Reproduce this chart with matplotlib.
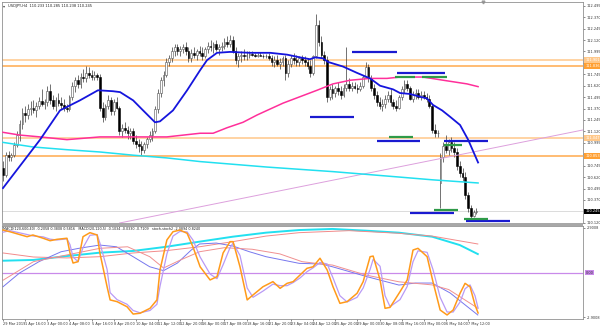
import matplotlib
matplotlib.use('Agg')
import matplotlib.pyplot as plt
import matplotlib.transforms as mtransforms
from matplotlib.patches import Rectangle
import numpy as np

# ---------------- data (USDJPY H4) ----------------
opens = [110.72,110.64,110.86,110.84,110.86,110.97,111.08,111.20,111.32,111.30,
         111.36,111.38,111.35,111.40,111.45,111.42,111.44,111.56,111.46,111.40,
         111.46,111.43,111.41,111.38,111.36,111.50,111.62,111.68,111.64,111.72,
         111.70,111.76,111.74,111.72,111.74,111.72,111.38,111.28,111.40,111.46,
         111.34,111.44,111.38,111.12,111.16,111.14,111.10,111.12,111.02,110.98,
         110.96,110.92,110.98,111.04,111.08,111.12,111.36,111.54,111.68,111.74,
         111.88,111.92,112.00,112.04,112.00,112.02,112.04,112.00,111.92,111.98,
         111.96,112.00,111.98,111.94,112.02,112.06,112.04,112.08,112.02,112.04,
         112.06,112.10,112.08,112.12,112.00,111.90,111.94,111.96,111.94,111.96,
         111.97,111.96,111.95,111.96,111.95,111.94,111.95,111.92,111.88,111.90,
         111.86,111.88,111.92,111.76,111.86,111.92,111.90,111.88,111.92,111.90,
         111.88,111.84,111.76,111.94,112.28,112.10,111.96,111.90,111.50,111.58,
         111.54,111.60,111.56,111.52,111.60,111.64,111.60,111.62,111.60,111.58,
         111.62,111.72,111.82,111.70,111.60,111.52,111.44,111.40,111.42,111.48,
         111.52,111.44,111.40,111.38,111.50,111.58,111.64,111.60,111.48,111.52,
         111.54,111.50,111.52,111.50,111.48,111.40,111.14,111.10,110.56,110.84,
         110.96,110.92,111.00,110.94,110.90,110.74,110.66,110.62,110.42,110.28,
         110.20,110.24]
highs = [110.80,110.90,110.91,110.88,111.00,111.12,111.25,111.38,111.40,111.42,
         111.45,111.46,111.44,111.50,111.58,111.48,111.62,111.64,111.52,111.50,
         111.54,111.50,111.48,111.42,111.52,111.66,111.72,111.74,111.76,111.80,
         111.84,111.82,111.79,111.78,111.76,111.75,111.44,111.42,111.52,111.50,
         111.48,111.50,111.40,111.20,111.22,111.18,111.16,111.16,111.08,111.04,
         111.02,111.00,111.06,111.12,111.16,111.40,111.58,111.72,111.78,111.92,
         111.96,112.04,112.08,112.08,112.06,112.08,112.10,112.04,112.02,112.04,
         112.02,112.06,112.04,112.04,112.10,112.12,112.10,112.12,112.08,112.10,
         112.14,112.16,112.18,112.16,112.04,111.98,112.00,112.02,112.00,112.00,
         112.00,111.98,111.98,111.99,111.97,111.97,111.98,111.96,111.94,111.96,
         111.92,111.94,111.96,111.90,111.96,111.98,111.96,111.94,111.96,111.94,
         111.92,111.90,111.96,112.40,112.34,112.16,112.00,111.94,111.62,111.64,
         111.62,111.66,111.62,111.64,112.04,111.70,111.66,111.66,111.64,111.66,
         111.74,111.88,111.86,111.74,111.64,111.56,111.50,111.48,111.52,111.56,
         111.58,111.48,111.46,111.52,111.62,111.68,111.68,111.62,111.56,111.58,
         111.58,111.56,111.56,111.54,111.52,111.42,111.20,111.14,110.88,111.00,
         111.08,111.04,111.06,111.00,110.94,110.80,110.72,110.68,110.46,110.32,
         110.26,110.28]
lows = [110.58,110.62,110.80,110.80,110.84,110.95,111.02,111.15,111.22,111.26,
        111.30,111.32,111.28,111.36,111.40,111.36,111.40,111.42,111.36,111.34,
        111.40,111.37,111.34,111.33,111.34,111.46,111.55,111.60,111.60,111.66,
        111.66,111.70,111.68,111.68,111.68,111.34,111.22,111.24,111.36,111.30,
        111.30,111.36,111.08,111.06,111.10,111.04,111.04,110.98,110.94,110.90,
        110.86,110.88,110.94,111.00,111.02,111.10,111.32,111.50,111.62,111.72,
        111.84,111.88,111.94,111.96,111.94,111.98,111.96,111.88,111.88,111.92,
        111.90,111.94,111.90,111.92,111.98,112.00,111.98,112.00,111.96,112.00,
        112.02,112.04,112.04,111.98,111.86,111.82,111.88,111.90,111.90,111.92,
        111.94,111.93,111.93,111.94,111.92,111.92,111.90,111.84,111.82,111.84,
        111.80,111.84,111.68,111.72,111.82,111.86,111.84,111.84,111.86,111.84,
        111.80,111.72,111.74,111.92,112.06,111.92,111.86,111.44,111.46,111.48,
        111.50,111.52,111.48,111.50,111.56,111.56,111.56,111.58,111.54,111.56,
        111.60,111.70,111.66,111.56,111.48,111.40,111.36,111.34,111.38,111.44,
        111.40,111.36,111.34,111.36,111.46,111.54,111.56,111.46,111.44,111.48,
        111.48,111.46,111.48,111.44,111.38,111.10,111.06,111.06,110.28,110.78,
        110.88,110.86,110.90,110.84,110.70,110.62,110.58,110.38,110.24,110.14,
        110.18,110.22]
closes = [110.64,110.86,110.84,110.86,110.97,111.08,111.20,111.32,111.30,111.36,
          111.38,111.35,111.40,111.45,111.42,111.44,111.56,111.46,111.40,111.46,
          111.43,111.41,111.38,111.36,111.50,111.62,111.68,111.64,111.72,111.70,
          111.76,111.74,111.72,111.74,111.72,111.38,111.28,111.40,111.46,111.34,
          111.44,111.38,111.12,111.16,111.14,111.10,111.12,111.02,110.98,110.96,
          110.92,110.98,111.04,111.08,111.12,111.36,111.54,111.68,111.74,111.88,
          111.92,112.00,112.04,112.00,112.02,112.04,112.00,111.92,111.98,111.96,
          112.00,111.98,111.94,112.02,112.06,112.04,112.08,112.02,112.04,112.06,
          112.10,112.08,112.12,112.00,111.90,111.94,111.96,111.94,111.96,111.97,
          111.96,111.95,111.96,111.95,111.94,111.95,111.92,111.88,111.90,111.86,
          111.88,111.92,111.76,111.86,111.92,111.90,111.88,111.92,111.90,111.88,
          111.84,111.76,111.94,112.28,112.10,111.96,111.90,111.50,111.58,111.54,
          111.60,111.56,111.52,111.60,111.64,111.60,111.62,111.60,111.58,111.62,
          111.72,111.82,111.70,111.60,111.52,111.44,111.40,111.42,111.48,111.52,
          111.44,111.40,111.38,111.50,111.58,111.64,111.60,111.48,111.52,111.54,
          111.50,111.52,111.50,111.48,111.40,111.14,111.10,111.10,110.84,110.96,
          110.92,111.00,110.94,110.90,110.74,110.66,110.62,110.42,110.28,110.20,
          110.24,110.245]

date_labels = ["29 Mar 2019", "1 Apr 16:00", "3 Apr 00:00", "4 Apr 08:00", "5 Apr 16:00",
               "8 Apr 20:00", "10 Apr 04:00", "11 Apr 12:00", "12 Apr 20:00", "16 Apr 00:00",
               "17 Apr 08:00", "18 Apr 16:00", "21 Apr 20:00", "23 Apr 04:00", "24 Apr 12:00",
               "25 Apr 20:00", "29 Apr 00:00", "30 Apr 08:00", "1 May 16:00", "3 May 00:00",
               "6 May 04:00", "7 May 12:00"]
date_label_bars = [0, 8, 16, 24, 32, 40, 48, 56, 64, 72, 80, 88, 96, 104, 112, 120,
                   128, 136, 144, 152, 160, 168]

price_ticks = [110.120, 110.245, 110.370, 110.495, 110.620, 110.745, 110.870, 110.995,
               111.120, 111.245, 111.370, 111.495, 111.620, 111.745, 111.870, 111.995,
               112.120, 112.245, 112.370, 112.495]

# moving averages (bar index, price)
ma_blue_x = [0, 13.4, 20.6, 27.8, 34.3, 39.7, 42.3, 47, 50.6, 54.9, 56.7, 61.4, 66.5, 71.2,
             73.7, 77.3, 82, 89.2, 96.5, 102.6, 107.3, 110.9, 112.7, 115.6, 117.4, 122.8,
             127.9, 132.6, 136.2, 140.9, 143.4, 147, 150.6, 153.2, 155.3, 158.6, 161.5,
             165.1, 168, 171.6]
ma_blue_p = [110.50, 111.03, 111.35, 111.46, 111.57, 111.56, 111.55, 111.46, 111.35, 111.22,
             111.23, 111.35, 111.57, 111.79, 111.90, 111.98, 111.99, 111.98, 111.98, 111.96,
             111.93, 111.91, 111.93, 111.92, 111.88, 111.83, 111.76, 111.70, 111.62, 111.58,
             111.54, 111.53, 111.50, 111.48, 111.41, 111.35, 111.28, 111.19, 111.03, 110.78]
ma_pink_x = [0, 6.1, 13.4, 23.1, 35, 49.5, 59.2, 71.2, 75.9, 80.9, 86.7, 91.8, 95.4, 101.2,
             107.3, 113.4, 119.2, 125.4, 132.6, 138.7, 143.4, 151.7, 159, 167.6, 171.6]
ma_pink_p = [111.11, 111.08, 111.06, 111.03, 111.06, 111.06, 111.06, 111.10, 111.10, 111.16,
             111.22, 111.30, 111.35, 111.43, 111.50, 111.57, 111.64, 111.68, 111.70, 111.70,
             111.715, 111.715, 111.68, 111.64, 111.61]
ma_cyan_x = [0, 10.8, 23.1, 35, 47, 59.2, 71.2, 95.4, 119.2, 143.4, 155.3, 171.6]
ma_cyan_p = [111.00, 110.95, 110.92, 110.895, 110.86, 110.83, 110.79, 110.73, 110.68, 110.62,
             110.59, 110.556]

trend_x = [143.4, 209.5]
trend_p = [110.734, 111.136]

orange_levels = [111.901, 111.836, 111.047, 110.853]
orange_labels = ["111.901", "111.836", "111.047", "110.853"]

blue_seg_p = [111.989, 111.759, 111.278, 111.015, 111.015, 110.228, 110.140]
blue_seg_x0 = [126.1, 142.3, 110.9, 135.1, 159.3, 147.0, 167.3]
blue_seg_x1 = [142.3, 159.7, 126.8, 150.6, 175.2, 162.9, 183.2]
green_seg_p = [111.715, 111.715, 111.054, 110.966, 110.260, 110.167]
green_seg_x0 = [141.6, 151.4, 139.5, 159.3, 155.7, 166.5]
green_seg_x1 = [148.8, 160.4, 148.1, 165.8, 164.4, 175.2]

bid = 110.245

# lower pane indicators
macd_slow_x = [0, 11, 23, 35, 47, 59, 71, 83, 95, 107, 119, 131, 143, 155, 165, 171.5]
macd_slow_v = [0.76, 0.81, 1.06, 1.28, 1.39, 1.66, 1.99, 2.31, 2.57, 2.74, 2.81, 2.70, 2.57,
               2.31, 1.77, 1.19]
macd_slow_sig_x = [0, 11, 23, 35, 47, 59, 71, 83, 95, 107, 125, 143, 155, 171.5]
macd_slow_sig_v = [1.26, 1.00, 0.94, 1.02, 1.26, 1.41, 1.66, 1.99, 2.35, 2.57, 2.70, 2.53,
                   2.35, 1.84]
macd_fast_x = [0, 6, 13, 21, 28, 35, 41, 47, 53, 58, 63, 68, 71, 77, 83, 89, 95, 107, 115,
               119, 131.5, 143, 149, 155, 161.5, 171.5]
macd_fast_v = [-0.92, -0.03, 0.70, 1.34, 1.58, 1.77, 1.66, 1.02, 0.37, 0.12, 0.61, 1.45, 1.84,
               1.90, 1.71, 1.34, 1.02, 0.59, 0.55, 0.37, -0.27, -0.81, -0.68, -0.68, -1.32,
               -2.74]
macd_fast_sig_x = [0, 11, 23, 35, 45, 53, 58, 64, 71, 80, 90, 100, 108, 115, 119, 131, 143,
                   155, 161, 171.5]
macd_fast_sig_v = [-0.50, 0.70, 1.13, 1.56, 1.66, 1.02, 0.29, 0.80, 1.34, 1.60, 1.50, 1.20,
                   0.70, 0.55, 0.48, -0.16, -0.60, -0.80, -1.10, -2.30]
osc_x = [0, 2.5, 8.7, 10.8, 14.5, 17, 19.5, 23.1, 24.2, 25.3, 27.1, 28.9, 31.4, 34, 35, 37.6,
         38.7, 41.2, 44.8, 47, 49.5, 53.1, 55.6, 56.7, 59.2, 61.4, 63.9, 66.5, 68.6, 71.2,
         74.8, 77.3, 79.5, 82, 83.1, 85.6, 88.2, 90.3, 93.9, 97.5, 100.1, 102.6, 104.8, 107.3,
         109.8, 112, 114.5, 117.1, 119.2, 121.7, 124.3, 127.9, 130.1, 132.6, 133.7, 136.2,
         138, 139.8, 143.4, 146, 148.1, 149.9, 153.2, 155.3, 157.9, 160.4, 162.6, 165.1,
         166.9, 168.7, 170.5, 171.6]
osc_v = [2.74, 2.63, 2.31, 2.42, 2.21, 2.05, 2.14, 2.21, 1.26, 0.61, 0.70, 2.31, 2.57, 2.42,
         1.26, -0.92, -1.77, -1.88, -2.21, -2.68, -2.63, -2.31, -1.77, 0.16, 2.10, 2.63, 2.74,
         2.53, 1.66, 0.37, -0.48, -0.27, 1.26, 1.99, 1.99, 0.37, -1.77, -1.45, -0.92, -0.59,
         -1.02, -0.70, -0.59, -0.16, 0.27, 0.37, 0.92, 0.16, -0.92, -1.99, -1.88, -1.34, -0.59,
         1.02, 1.06, -0.48, -2.31, -2.25, -1.24, -0.48, 1.45, 1.56, 1.02, -0.59, -2.42, -2.74,
         -2.42, -1.34, -0.70, -0.92, -2.10, -2.61]
osc_sig_v = [2.60, 2.70, 2.45, 2.36, 2.30, 2.15, 2.10, 2.17, 1.80, 1.00, 0.70, 1.60, 2.40, 2.45,
             1.90, 0.20, -1.30, -1.75, -2.05, -2.45, -2.60, -2.45, -2.05, -0.90, 1.20, 2.35,
             2.65, 2.62, 2.10, 1.00, -0.10, -0.40, 0.50, 1.60, 1.90, 1.10, -1.00, -1.60, -1.20,
             -0.75, -0.85, -0.85, -0.65, -0.35, 0.05, 0.30, 0.65, 0.55, -0.35, -1.50, -1.90,
             -1.60, -1.00, 0.20, 0.85, 0.40, -1.50, -2.20, -1.75, -0.90, 0.70, 1.40, 1.30, 0.20,
             -1.60, -2.55, -2.55, -1.90, -1.05, -0.80, -1.50, -2.30]

header = "USDJPY,H4  110.233 110.285 110.238 110.245"
macd_header = ("MACD(120,600,40) -0.2058 0.3808 0.5816   MACD(20,120,5) -0.1034 -0.0330 -0.7109"
               "   stoch-stoch2 -2.0894 0.8240")

# ---------------- drawing ----------------
W, H = 600, 328
fig = plt.figure(figsize=(6, 3.28), dpi=100)
fig.patch.set_facecolor('white')


def box(x0, y0, x1, y1):
    return [x0 / W, 1 - y1 / H, (x1 - x0) / W, (y1 - y0) / H]


ax = fig.add_axes(box(2, 2, 583, 223))
ax2 = fig.add_axes(box(2, 226, 583, 319))
fig.patches.append(Rectangle((2 / W, 1 - 226 / H), 581 / W, 3 / H, transform=fig.transFigure,
                             facecolor='#A8A8A8', edgecolor='none'))

o = np.array(opens); h = np.array(highs); l = np.array(lows); c = np.array(closes)
idx = np.arange(len(c))
up = c >= o
ax.vlines(idx, l, h, color='#3a3a3a', lw=0.5, zorder=2)
body = np.maximum(np.abs(c - o), 0.005)
ax.bar(idx[up], body[up], bottom=o[up], width=0.62, color='white', edgecolor='#505050',
       lw=0.4, zorder=2.1)
ax.bar(idx[~up], body[~up], bottom=c[~up], width=0.62, color='black', edgecolor='black',
       lw=0.4, zorder=2.1)

ax.axhline(bid, color='#D6D6D6', lw=0.6, zorder=1)
for k, lv in enumerate(orange_levels):
    col = '#FFC88A' if k in (0, 2) else '#FFA94D'
    ax.axhline(lv, color=col, lw=1.1, zorder=1.5)

ax.plot(ma_cyan_x, ma_cyan_p, color='#22E0F0', lw=1.1, zorder=3)
ax.plot(ma_pink_x, ma_pink_p, color='#FF2F9A', lw=1.1, zorder=3)
ax.plot(ma_blue_x, ma_blue_p, color='#1515DD', lw=1.3, zorder=3.2)
ax.axline((trend_x[0], trend_p[0]), (trend_x[1], trend_p[1]), color='#DDA0DD', lw=0.7, zorder=2.5)

ax.hlines(blue_seg_p, blue_seg_x0, blue_seg_x1, color='#1A1AD0', lw=1.6, zorder=4)
ax.hlines(green_seg_p, green_seg_x0, green_seg_x1, color='#2E9A48', lw=1.6, zorder=4)

ax.set_xlim(-0.36, 209.5)
ax.set_ylim(110.118, 112.536)
ax.yaxis.tick_right()
ax.set_yticks(price_ticks)
ax.set_yticklabels([f'{t:.3f}' for t in price_ticks])
ax.tick_params(axis='y', labelsize=2.5, length=1.5, width=0.4, pad=1, colors='#333333')
ax.set_xticks([])
for sp in ax.spines.values():
    sp.set_color('#909090'); sp.set_linewidth(0.6)

tr = mtransforms.blended_transform_factory(ax.transAxes, ax.transData)
for k, (lv, lab) in enumerate(zip(orange_levels, orange_labels)):
    fc = '#FFC88A' if k in (0, 2) else '#FFA033'
    ax.text(1.004, lv, lab, transform=tr, fontsize=2.5, color='white', va='center', ha='left',
            bbox=dict(boxstyle='square,pad=0.25', fc=fc, ec='none'), zorder=6, clip_on=False)
ax.text(1.004, bid, f'{bid:.3f}', transform=tr, fontsize=2.5, color='white', va='center',
        ha='left', bbox=dict(boxstyle='square,pad=0.25', fc='black', ec='none'), zorder=6,
        clip_on=False)

ax.text(0.002, 0.99, '\u25be', transform=ax.transAxes, fontsize=3, va='top', ha='left',
        color='#444444')
ax.text(0.011, 0.99, header, transform=ax.transAxes, fontsize=2.6, va='top', ha='left',
        color='#222222')
ax.plot([173.4], [1.0], marker='v', ms=2, color='#9a9a9a',
        transform=mtransforms.blended_transform_factory(ax.transData, ax.transAxes),
        clip_on=False)

# lower pane
ax2.axhline(0, color='#C98AEA', lw=0.9, zorder=1)
ax2.plot(macd_slow_x, macd_slow_v, color='#22E0F0', lw=1.4, zorder=2)
ax2.plot(macd_slow_sig_x, macd_slow_sig_v, color='#F28A8A', lw=0.7, zorder=2)
ax2.plot(macd_fast_x, macd_fast_v, color='#7777EE', lw=0.7, zorder=2)
ax2.plot(macd_fast_sig_x, macd_fast_sig_v, color='#F09090', lw=0.7, zorder=2)
ax2.plot(osc_x, osc_sig_v, color='#B99AF5', lw=0.9, zorder=3)
ax2.plot(osc_x, osc_v, color='#FF9A1A', lw=1.1, zorder=3.2)
ax2.set_xlim(-0.36, 209.5)
ax2.set_ylim(-3.0, 3.0)
ax2.yaxis.tick_right()
ax2.set_yticks([2.9008, -2.9008])
ax2.set_yticklabels(['2.9008', '-2.9008'])
ax2.tick_params(axis='y', labelsize=2.5, length=1.5, width=0.4, pad=1, colors='#333333')
tr2 = mtransforms.blended_transform_factory(ax2.transAxes, ax2.transData)
ax2.text(1.004, 0, '0.00', transform=tr2, fontsize=2.5, color='#333333', va='center',
         ha='left', bbox=dict(boxstyle='square,pad=0.2', fc='#C98AEA', ec='none'),
         clip_on=False)
ax2.set_xticks(date_label_bars)
ax2.set_xticklabels(date_labels)
ax2.tick_params(axis='x', labelsize=2.5, length=1.5, width=0.4, pad=0.8, colors='#333333')
for lbl in ax2.get_xticklabels():
    lbl.set_ha('left')
for sp in ax2.spines.values():
    sp.set_color('#909090'); sp.set_linewidth(0.6)
ax2.text(0.002, 0.985, macd_header, transform=ax2.transAxes, fontsize=2.4, va='top',
         ha='left', color='#222222')

fig.savefig('out.png', dpi=100)
